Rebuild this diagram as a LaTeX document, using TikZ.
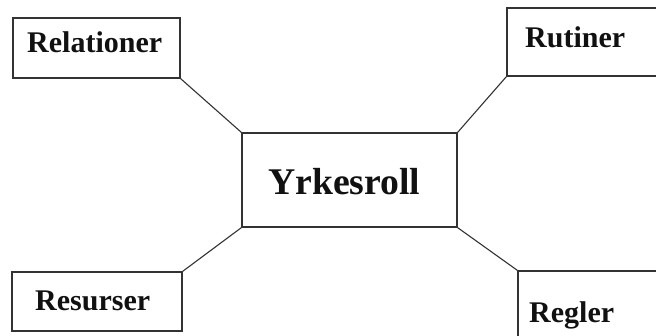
\documentclass[tikz,border=0pt]{standalone}
\usepackage{fontspec}
\setmainfont{Liberation Serif}
\definecolor{linec}{HTML}{333333}
\definecolor{textc}{HTML}{111111}
\tikzset{
  box/.style={draw=linec, line width=1.3pt, rectangle, inner sep=0pt, fill=white},
  lbl/.style={anchor=base west, inner sep=0pt, text=textc, font=\bfseries\fontsize{30}{35}\selectfont},
  biglbl/.style={anchor=base west, inner sep=0pt, text=textc, font=\bfseries\fontsize{37.7}{44}\selectfont},
  conn/.style={draw=linec, line width=1.1pt}
}
\begin{document}
\begin{tikzpicture}[x=1pt,y=1pt]
\useasboundingbox (0,0) rectangle (656,-335);
\clip (0,0) rectangle (656,-335);
\fill[white] (0,0) rectangle (656,-335);
\node[box, minimum width=167pt, minimum height=60pt] (rel) at (96.5,-48) {};
\node[box, minimum width=200pt, minimum height=68pt] (rut) at (607,-42) {};
\node[box, minimum width=170pt, minimum height=59pt] (res) at (97,-301.5) {};
\node[box, minimum width=200pt, minimum height=100pt] (reg) at (618,-321) {};
\node[box, minimum width=215pt, minimum height=94pt] (ctr) at (349.5,-180) {};
\node[lbl] (trel) at (27,-52) {Relationer};
\node[lbl] (trut) at (525,-47) {Rutiner};
\node[lbl] (tres) at (35,-310) {Resurser};
\node[lbl] (treg) at (529,-322) {Regler};
\node[biglbl] (tctr) at (268,-194) {Yrkesroll};
\draw[conn] (rel.south east) -- (ctr.north west);
\draw[conn] (rut.south west) -- (ctr.north east);
\draw[conn] (res.north east) -- (ctr.south west);
\draw[conn] (reg.north west) -- (ctr.south east);
\end{tikzpicture}
\end{document}
